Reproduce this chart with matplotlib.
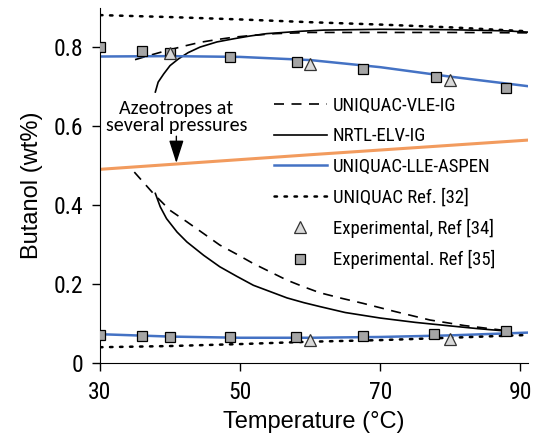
"""
Butanol-water phase envelope vs temperature: model curves and experimental points.
"""

import matplotlib

matplotlib.use("Agg")
import matplotlib.pyplot as plt

# --- data ---
# UNIQUAC-VLE-IG (dashed), two branches
vle_upper_t = [35.0, 37.1, 39.5, 41.9, 44.3, 46.7, 49.1, 51.4, 55, 60, 70, 80, 91]
vle_upper_w = [0.769, 0.780, 0.792, 0.803, 0.813, 0.820, 0.826, 0.830, 0.835, 0.838, 0.838, 0.838, 0.837]
vle_lower_t = [34.9, 37.6, 40.0, 42.4, 44.8, 47.1, 49.5, 51.9, 54.3, 56.7, 59.1, 61.4,
               64.5, 67.6, 72, 77.1, 82, 88]
vle_lower_w = [0.484, 0.430, 0.387, 0.358, 0.328, 0.299, 0.276, 0.252, 0.231, 0.210, 0.193, 0.178,
               0.164, 0.151, 0.131, 0.109, 0.095, 0.082]

# NRTL-ELV-IG (solid), two branches
nrtl_upper_t = [37.9, 38.3, 39.1, 40.0, 41.2, 42.6, 44.3, 46.7, 49.1, 51.4, 53.8, 56.2, 58.6,
                62, 70, 80, 88, 91]
nrtl_upper_w = [0.687, 0.712, 0.733, 0.754, 0.771, 0.787, 0.801, 0.814, 0.822, 0.829, 0.835, 0.838, 0.841,
                0.844, 0.846, 0.845, 0.842, 0.839]
nrtl_lower_t = [37.9, 38.6, 39.5, 41.0, 42.4, 44.8, 47.1, 49.5, 51.9, 54.3, 56.7, 59.1, 61.4,
                65, 70, 75, 80, 84, 88]
nrtl_lower_w = [0.430, 0.396, 0.366, 0.332, 0.307, 0.273, 0.244, 0.220, 0.197, 0.181, 0.165, 0.153, 0.143,
                0.128, 0.114, 0.103, 0.094, 0.087, 0.081]

# UNIQUAC-LLE-ASPEN (blue), organic and aqueous phases
lle_t = [30, 40, 50, 60, 70, 80, 91]
lle_upper_w = [0.777, 0.778, 0.776, 0.768, 0.750, 0.726, 0.702]
lle_lower_w = [0.073, 0.067, 0.064, 0.064, 0.066, 0.070, 0.077]

# UNIQUAC Ref. [32] (dotted)
ref32_t = [30, 40, 50, 60, 70, 80, 91]
ref32_upper_w = [0.882, 0.877, 0.871, 0.864, 0.858, 0.851, 0.841]
ref32_lower_w = [0.040, 0.043, 0.048, 0.054, 0.058, 0.064, 0.071]

# azeotrope line (orange)
azeo_t = [30, 60, 91]
azeo_w = [0.491, 0.528, 0.565]

# Experimental, Ref [34] (triangles)
exp34_t = [40, 60, 80, 60, 80]
exp34_w = [0.787, 0.759, 0.718, 0.058, 0.061]

# Experimental. Ref [35] (squares)
exp35_t = [30, 36, 40, 48.6, 58.1, 67.5, 77.9, 87.9,
           30, 36, 40, 48.5, 58, 67.5, 77.7, 87.9]
exp35_w = [0.800, 0.791, 0.787, 0.777, 0.763, 0.746, 0.725, 0.697,
           0.071, 0.068, 0.067, 0.065, 0.067, 0.068, 0.073, 0.081]

FONT = ["Liberation Sans", "DejaVu Sans"]
NARROW = ["Roboto Condensed", "Archivo Narrow", "Liberation Sans", "DejaVu Sans"]
NOTE = ["Carlito", "Lato", "DejaVu Sans"]

fig = plt.figure(figsize=(5.35, 4.47), dpi=100)
ax = fig.add_axes([100 / 535, 84 / 447, 428 / 535, 355 / 447])

dash = (0, (6, 4.5))
ax.plot(vle_upper_t, vle_upper_w, color="black", lw=1.2, ls=dash, label="UNIQUAC-VLE-IG")
ax.plot(vle_lower_t, vle_lower_w, color="black", lw=1.2, ls=dash)
ax.plot(nrtl_upper_t, nrtl_upper_w, color="black", lw=1.2, label="NRTL-ELV-IG")
ax.plot(nrtl_lower_t, nrtl_lower_w, color="black", lw=1.2)
ax.plot(lle_t, lle_upper_w, color="#4472C4", lw=1.8, label="UNIQUAC-LLE-ASPEN")
ax.plot(lle_t, lle_lower_w, color="#4472C4", lw=1.8)
dots = (0, (1, 3))
ax.plot(ref32_t, ref32_upper_w, color="black", lw=1.8, ls=dots,
        dash_capstyle="round", label="UNIQUAC Ref. [32]")
ax.plot(ref32_t, ref32_lower_w, color="black", lw=1.8, ls=dots, dash_capstyle="round")
ax.plot(azeo_t, azeo_w, color="#F29B5E", lw=2.2)

ax.plot(exp35_t, exp35_w, ls="none", marker="s", ms=7.5, mfc="#A5A5A5",
        mec="black", mew=0.9, zorder=4, label="Experimental. Ref [35]")
ax.plot(exp34_t, exp34_w, ls="none", marker="^", ms=8.5, mfc="#D9D9D9",
        mec="#333333", mew=0.9, zorder=5, label="Experimental, Ref [34]")

ax.text(40.9, 0.624, "Azeotropes at\nseveral pressures", ha="center", va="center",
        fontsize=14.5, family=NOTE, linespacing=1.05)
ax.annotate("", xy=(40.9, 0.507), xytext=(40.9, 0.575),
            arrowprops=dict(arrowstyle="-|>,head_length=1.4,head_width=0.45",
                            color="black", lw=1.0, shrinkA=0, shrinkB=0))

ax.set_xlim(30, 91.1)
ax.set_ylim(0, 0.9)
ax.set_xticks([30, 50, 70, 90])
ax.set_yticks([0, 0.2, 0.4, 0.6, 0.8])
ax.set_yticklabels(["0", "0.2", "0.4", "0.6", "0.8"])
ax.spines["top"].set_visible(False)
ax.spines["right"].set_visible(False)
ax.tick_params(direction="out", length=6, width=1, labelsize=17)
ax.tick_params(axis="x", pad=7)
ax.tick_params(axis="y", pad=6)
for lab in ax.get_xticklabels() + ax.get_yticklabels():
    lab.set_family(NARROW)
ax.set_xlabel("Temperature (°C)", fontsize=17, family=FONT, labelpad=5)
ax.set_ylabel("Butanol (wt%)", fontsize=17, family=FONT, labelpad=8)

handles, labels = ax.get_legend_handles_labels()
order = [0, 1, 2, 3, 5, 4]
leg = ax.legend([handles[i] for i in order], [labels[i] for i in order],
                loc="upper left", bbox_to_anchor=(274 / 535, 1 - 97 / 447),
                bbox_transform=fig.transFigure, frameon=False,
                prop={"family": NARROW, "size": 13.5}, handlelength=2.8,
                handletextpad=0.33, labelspacing=0.66, borderpad=0, borderaxespad=0)

fig.savefig("out.png", dpi=100)
